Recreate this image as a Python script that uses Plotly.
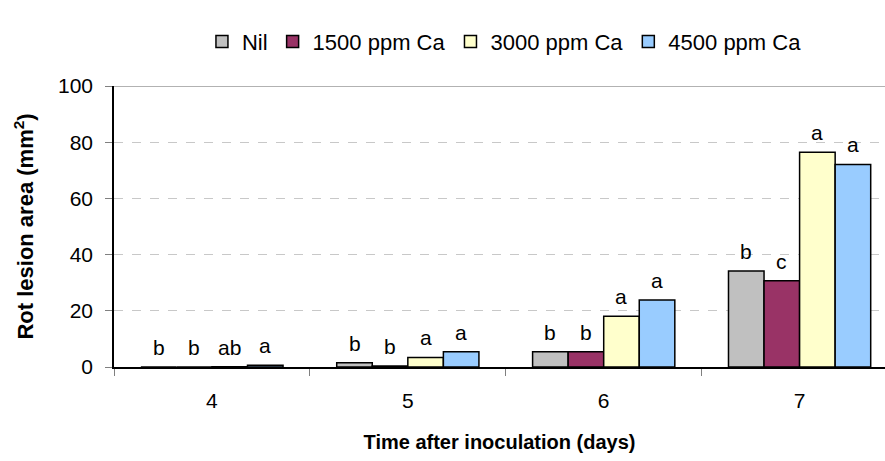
import plotly.graph_objects as go

days = ["4", "5", "6", "7"]
series_names = ["Nil", "1500 ppm Ca", "3000 ppm Ca", "4500 ppm Ca"]
nil = [0.0, 1.5, 5.4, 34.2]
ca1500 = [0.0, 0.4, 5.4, 30.7]
ca3000 = [0.1, 3.4, 18.1, 76.4]
ca4500 = [0.6, 5.4, 23.8, 72.1]
letters_nil = ["b", "b", "b", "b"]
letters_1500 = ["b", "b", "b", "c"]
letters_3000 = ["ab", "a", "a", "a"]
letters_4500 = ["a", "a", "a", "a"]
colors = ["#C0C0C0", "#993366", "#FFFFCC", "#99CCFF"]

FONT = "Arial, Liberation Sans, sans-serif"
BARGAP = 0.274
n_series = len(series_names)
bw = (1 - BARGAP) / n_series

fig = go.Figure()
all_vals = [nil, ca1500, ca3000, ca4500]
all_lets = [letters_nil, letters_1500, letters_3000, letters_4500]
for j, (name, vals, lets, col) in enumerate(zip(series_names, all_vals, all_lets, colors)):
    fig.add_trace(go.Bar(
        x=days, y=vals, name=name,
        marker=dict(color=col, line=dict(color="black", width=1.5)),
    ))
    for i, (v, t) in enumerate(zip(vals, lets)):
        fig.add_annotation(
            x=i + (j - (n_series - 1) / 2) * bw, y=v, xref="x", yref="y",
            text=t, showarrow=False, yanchor="bottom", yshift=6,
            font=dict(family=FONT, size=21, color="black"),
        )

fig.add_shape(type="line", xref="paper", yref="y", x0=0, x1=1, y0=100, y1=100,
              line=dict(color="#999999", width=1.5), layer="above")

fig.update_layout(
    width=885, height=461,
    margin=dict(l=114, r=0, t=86, b=94, autoexpand=False),
    paper_bgcolor="white", plot_bgcolor="white",
    barmode="group", bargap=BARGAP, bargroupgap=0,
    font=dict(family=FONT, size=21, color="black"),
    legend=dict(orientation="h", x=0.57, xref="container", xanchor="center",
                y=0.955, yref="container", yanchor="top",
                font=dict(size=22), itemwidth=30, traceorder="normal"),
    showlegend=True,
)
fig.update_xaxes(
    title=dict(text="<b>Time after inoculation (days)</b>", font=dict(size=20), standoff=24),
    range=[-0.5, 3.436],
    showline=True, linecolor="black", linewidth=1.5, ticks="outside", tickson="boundaries",
    ticklen=7, tickcolor="#808080", showgrid=False, ticklabelstandoff=14,
)
fig.update_yaxes(
    title=dict(text="<b>Rot lesion area (mm<sup>2</sup>)</b>", font=dict(size=22), standoff=18),
    range=[0, 100], dtick=20, showline=True, linecolor="black", linewidth=1.5,
    ticks="outside", ticklen=7, tickcolor="#808080", ticklabelstandoff=8,
    showgrid=True, gridcolor="#C8C8C8", griddash="dash", gridwidth=1, zeroline=False,
)
fig.write_html("out.html")
